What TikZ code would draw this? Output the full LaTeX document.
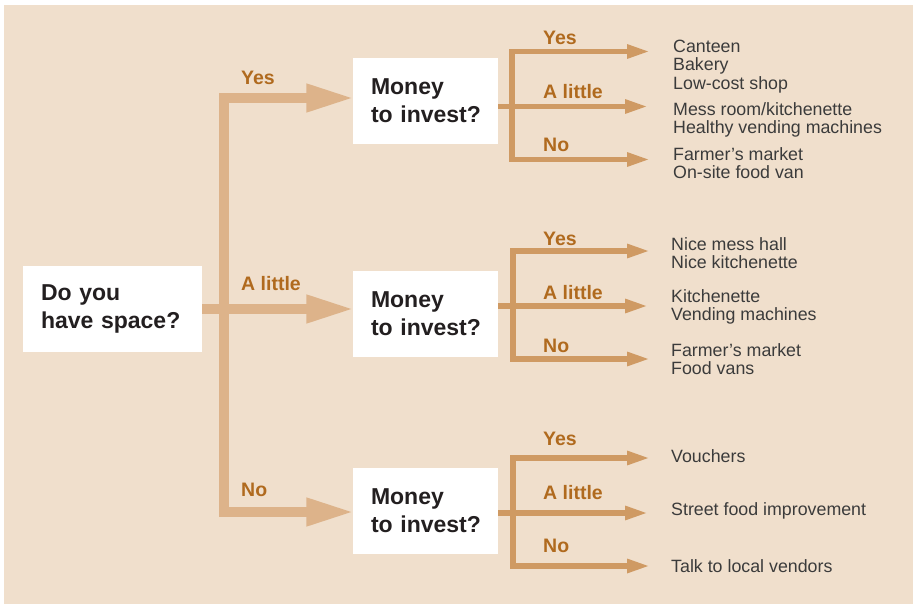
\documentclass[tikz,border=0pt]{standalone}
\usepackage{fontspec}
\setmainfont{Liberation Sans}
\usetikzlibrary{arrows.meta}
\definecolor{bg}{HTML}{F0DFCC}
\definecolor{arrA}{HTML}{DDB38A}
\definecolor{arrB}{HTML}{CF9A63}
\definecolor{lbl}{HTML}{B06A1E}
\definecolor{itemc}{HTML}{3B3B3B}
\definecolor{boxtxt}{HTML}{231F20}
\begin{document}
\begin{tikzpicture}[x=1pt,y=-1pt,
  qbox/.style={fill=white, draw=none, minimum height=86pt, inner ysep=0pt, align=left,
    font=\fontsize{23}{28.3}\selectfont\bfseries, text=boxtxt},
  mbox/.style={qbox, text width=109pt, inner xsep=18pt, minimum width=145pt},
  sbox/.style={qbox, text width=143pt, inner xsep=18pt, minimum width=179pt},
  bigline/.style={draw=arrA, line width=10pt, line join=miter},
  smallline/.style={draw=arrB, line width=5.5pt, line join=miter},
  bigtip/.tip={Triangle[length=48pt,width=26pt]},
  smalltip/.tip={Triangle[length=23pt,width=13pt]},
  lab/.style={font=\fontsize{19.5}{20}\selectfont\bfseries, text=lbl, anchor=west, inner sep=0pt},
  itm/.style={font=\fontsize{17.8}{18.2}\selectfont, text=itemc, anchor=west, align=left, inner sep=0pt}
]
\useasboundingbox (0,0) rectangle (916,607);
\fill[white] (0,0) rectangle (916,607);
\fill[bg] (4,5) rectangle (913,604);

% boxes
\node[sbox] (s) at (112.5,309) {\mbox{Do you}\\\mbox{have space?}};
\node[mbox] (q1) at (425.5,101) {\mbox{Money}\\\mbox{to invest?}};
\node[mbox] (q2) at (425.5,314) {\mbox{Money}\\\mbox{to invest?}};
\node[mbox] (q3) at (425.5,511) {\mbox{Money}\\\mbox{to invest?}};

% first level arrows
\coordinate (tr) at (224,512);
\draw[bigline, bigtip-bigtip, shorten <=-1.5pt, shorten >=-1.5pt] ([yshift=3pt]q1.west) -| (tr) -- (tr -| q3.west);
\draw[bigline, -bigtip, shorten >=-1.5pt] (s.east) -- (s.east -| q2.west);

\node[lab] (l1) at (241,78) {Yes};
\node[lab] (l2) at (241,283.5) {A little};
\node[lab] (l3) at (241,489.5) {No};

% second level: top group
\coordinate (a1) at (650,51.5);
\coordinate (a2) at (648,106.5);
\coordinate (a3) at (650,159.5);
\coordinate (ta) at (512,159.5);
\draw[smallline, smalltip-smalltip] (a1) -| (ta) -- (a3);
\draw[smallline, -smalltip] (q1.east |- a2) -- (a2);
\node[lab] (la1) at (543,38) {Yes};
\node[lab] (la2) at (543,92) {A little};
\node[lab] (la3) at (543,145) {No};
\node[itm] (ia1) at (673,66.5) {Canteen\\Bakery\\Low-cost shop};
\node[itm] (ia2) at (673,119.5) {Mess room/kitchenette\\Healthy vending machines};
\node[itm] (ia3) at (673,163) {Farmer’s market\\On-site food van};

% middle group
\coordinate (b1) at (650,251);
\coordinate (b2) at (648,306);
\coordinate (b3) at (650,359);
\coordinate (tb) at (513,359);
\draw[smallline, smalltip-smalltip] (b1) -| (tb) -- (b3);
\draw[smallline, -smalltip] (q2.east |- b2) -- (b2);
\node[lab] (lb1) at (543,238.5) {Yes};
\node[lab] (lb2) at (543,292.5) {A little};
\node[lab] (lb3) at (543,345.5) {No};
\node[itm] (ib1) at (671,253.5) {Nice mess hall\\Nice kitchenette};
\node[itm] (ib2) at (671,306.5) {Kitchenette\\Vending machines};
\node[itm] (ib3) at (671,359) {Farmer’s market\\Food vans};

% bottom group
\coordinate (c1) at (650,458);
\coordinate (c2) at (648,513);
\coordinate (c3) at (650,566);
\coordinate (tc) at (513,566);
\draw[smallline, smalltip-smalltip] (c1) -| (tc) -- (c3);
\draw[smallline, -smalltip] (q3.east |- c2) -- (c2);
\node[lab] (lc1) at (543,439) {Yes};
\node[lab] (lc2) at (543,492.5) {A little};
\node[lab] (lc3) at (543,546) {No};
\node[itm] (ic1) at (671,456) {Vouchers};
\node[itm] (ic2) at (671,511) {Street food improvement};
\node[itm] (ic3) at (671,566) {Talk to local vendors};
\end{tikzpicture}
\end{document}
